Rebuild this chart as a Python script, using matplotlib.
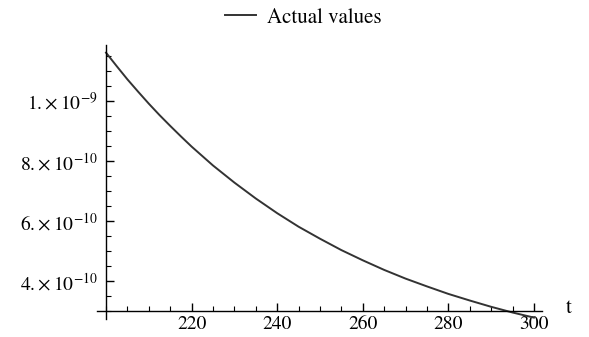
import numpy as np
import matplotlib.pyplot as plt
from matplotlib.ticker import MultipleLocator, FixedLocator, FixedFormatter

plt.rcParams['font.family'] = ['STIXGeneral', 'DejaVu Serif']
plt.rcParams['mathtext.fontset'] = 'stix'

# values
t = [200, 202.5, 205, 207.5, 210, 212.5, 215, 217.5, 220, 225, 230, 235, 240, 245, 250,
     255, 260, 265, 270, 275, 280, 285, 290, 295, 300]
actual = [1.160, 1.115, 1.071, 1.030, 0.990, 0.952, 0.916, 0.881, 0.847, 0.784, 0.727,
          0.674, 0.625, 0.580, 0.540, 0.502, 0.468, 0.436, 0.407, 0.381, 0.356, 0.334,
          0.313, 0.294, 0.277]
actual = [v * 1e-9 for v in actual]

xticks = [220, 240, 260, 280, 300]
yticks = [4e-10, 6e-10, 8e-10, 1e-9]
ylabels = [r'$4.\!\times 10^{-10}$', r'$6.\!\times 10^{-10}$',
           r'$8.\!\times 10^{-10}$', r'$1.\!\times 10^{-9}$']

fig = plt.figure(figsize=(5.89, 3.37), dpi=100)
ax = fig.add_axes([0.164, 0.054, 0.757, 0.812])

line, = ax.plot(t, actual, color='#333333', lw=1.4, clip_on=False, label='Actual values')

ax.set_xlim(197.8, 302)
ax.set_ylim(2.73e-10, 1.185e-9)

for s in ['top', 'right']:
    ax.spines[s].set_visible(False)
ax.spines['left'].set_position(('data', 200))
ax.spines['bottom'].set_position(('data', 3e-10))
ax.spines['left'].set_linewidth(1.0)
ax.spines['bottom'].set_linewidth(1.0)

ax.xaxis.set_major_locator(FixedLocator(xticks))
ax.xaxis.set_minor_locator(MultipleLocator(5))
ax.yaxis.set_major_locator(FixedLocator(yticks))
ax.yaxis.set_major_formatter(FixedFormatter(ylabels))
ax.yaxis.set_minor_locator(MultipleLocator(5e-11))

ax.tick_params(axis='both', which='major', direction='in', length=6, width=1, labelsize=14)
ax.tick_params(axis='both', which='minor', direction='in', length=3.5, width=0.8)
ax.tick_params(axis='x', which='major', pad=4)
ax.tick_params(axis='y', which='major', pad=6)

ax.text(1.058, 3.08e-10, 't', transform=ax.get_yaxis_transform(), fontsize=15,
        ha='center', va='center')

fig.legend(handles=[line], loc='center', bbox_to_anchor=(0.515, 0.947), frameon=False,
           fontsize=15, handlelength=1.5, handletextpad=0.5)

fig.savefig('out.png', dpi=100)
